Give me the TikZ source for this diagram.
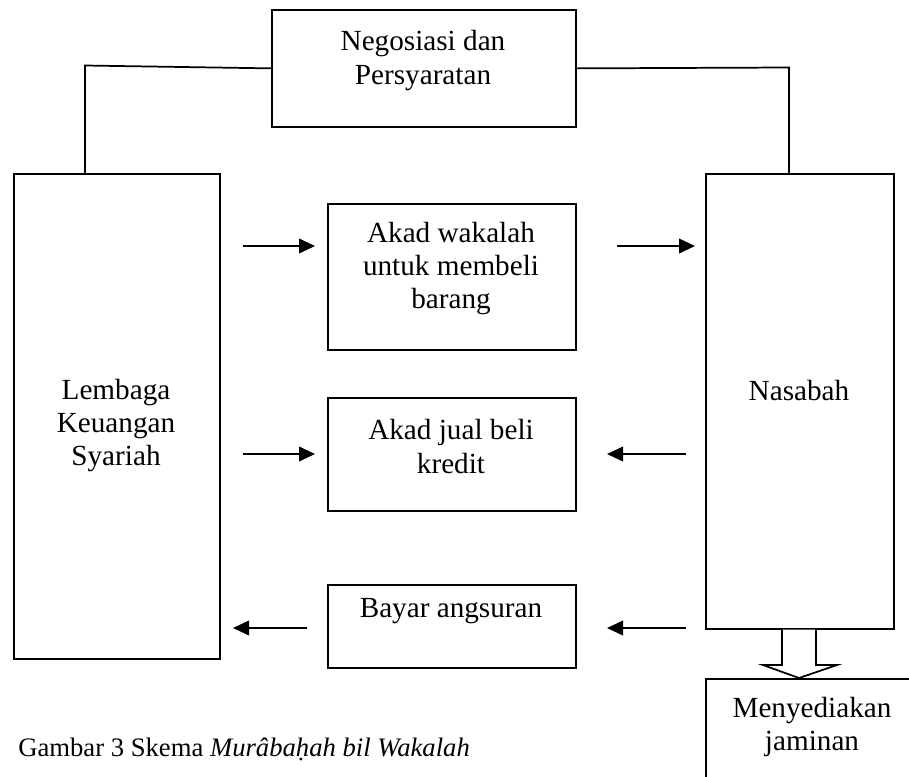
\documentclass[tikz,border=0pt]{standalone}
\usepackage{fontspec}
\setmainfont{Liberation Serif}
\usetikzlibrary{arrows.meta}
\begin{document}
\begin{tikzpicture}[x=0.75pt,y=-0.75pt,
  box/.style={draw, line width=1.3pt, inner sep=0pt, anchor=north west},
  lbl/.style={font=\fontsize{21.9}{25}\selectfont, align=center, inner sep=0pt},
  captext/.style={font=\fontsize{20}{24}\selectfont, inner sep=0pt},
  arr/.style={line width=1.3pt, -{Triangle[length=12pt,width=11pt]}},
  conn/.style={line width=1.3pt}]
\useasboundingbox (0,0) rectangle (909,776);
\clip (0,0) rectangle (909,776);
% boxes
\node[box, minimum width=228pt, minimum height=87.75pt] (neg) at (271,9) {};
\node[box, minimum width=154.5pt, minimum height=363.75pt] (lks) at (13,173) {};
\node[box, minimum width=141pt, minimum height=341.25pt] (nas) at (705,173) {};
\node[box, minimum width=186pt, minimum height=109.5pt] (ak1) at (327,203) {};
\node[box, minimum width=186pt, minimum height=84.75pt] (ak2) at (327,397) {};
\node[box, minimum width=186pt, minimum height=62.25pt] (ak3) at (327,584) {};
% texts
\node[lbl] (tneg) at (423,60.5) {Negosiasi dan\\Persyaratan};
\node[lbl] (tak1) at (451,268.5) {Akad wakalah\\untuk membeli\\barang};
\node[lbl] (tak2) at (451,446.5) {Akad jual beli\\kredit};
\node[lbl] (tak3) at (451,611) {Bayar angsuran};
\node[lbl] (tlks) at (116,425.5) {Lembaga\\Keuangan\\Syariah};
\node[lbl] (tnas) at (799,391) {Nasabah};
% connectors to negotiation box
\coordinate (lcorner) at (85,65.5);
\coordinate (rcorner) at (789,67.5);
\draw[conn] (lks.north -| lcorner) -- (lcorner) -- (neg.west);
\draw[conn] (neg.east) -- (rcorner) -- (nas.north -| rcorner);
% arrows
\coordinate (r1a) at (243,246); \coordinate (r1b) at (315,246);
\coordinate (r1c) at (617,246); \coordinate (r1d) at (695,246);
\coordinate (r2a) at (243,454); \coordinate (r2b) at (315,454);
\coordinate (r2c) at (686,454); \coordinate (r2d) at (607,454);
\coordinate (r3a) at (307,628); \coordinate (r3b) at (233,628);
\coordinate (r3c) at (686,628); \coordinate (r3d) at (607,628);
\draw[arr] (r1a) -- (r1b);
\draw[arr] (r1c) -- (r1d);
\draw[arr] (r2a) -- (r2b);
\draw[arr] (r2c) -- (r2d);
\draw[arr] (r3a) -- (r3b);
\draw[arr] (r3c) -- (r3d);
% block arrow down to guarantee box
\draw[line width=1.3pt, fill=white, line join=miter]
  (nas.south -| 782,0) -- (782,665) -- (763,665) -- (799,678) -- (837,665) -- (816,665) -- (nas.south -| 816,0);
\node[box, fill=white, minimum width=160.5pt, minimum height=91.5pt] (jam) at (705,678) {};
\node[lbl] (tjam) at (812,727) {Menyediakan\\jaminan};
% caption
\node[captext, anchor=west] (caption) at (18,749) {Gambar 3 Skema \textit{Murâbaḥah bil Wakalah}};
\end{tikzpicture}
\end{document}
